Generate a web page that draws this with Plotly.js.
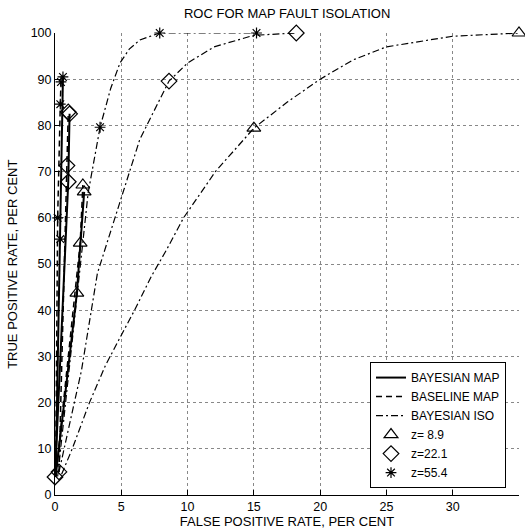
<!DOCTYPE html>
<html>
<head>
<meta charset="utf-8">
<script src="https://cdn.plot.ly/plotly-3.0.1.min.js"></script>
<style>html,body{margin:0;padding:0;background:#fff;}#chart{width:525px;height:529px;}</style>
</head>
<body>
<div id="chart"></div>
<script>
// ---- data ----
const zLabels = ['z= 8.9', 'z=22.1', 'z=55.4'];
const styleNames = ['BAYESIAN MAP', 'BASELINE MAP', 'BAYESIAN ISO'];

// Bayesian MAP (solid)
const bmapX_z89 = [0.05, 1.65, 2.2];   const bmapY_z89 = [4, 43.7, 65.6];
const bmapX_z221 = [0.0, 1.0, 1.1];    const bmapY_z221 = [3.9, 67.8, 82.5];
const bmapX_z554 = [0.05, 0.4, 0.6];   const bmapY_z554 = [4, 55.4, 90.5];

// Baseline MAP (dashed)
const basX_z89 = [0.05, 1.9, 2.1];     const basY_z89 = [4, 54.5, 67.1];
const basX_z221 = [0.3, 0.9, 1.0];     const basY_z221 = [5.0, 71.3, 82.9];
const basX_z554 = [0.05, 0.2, 0.4, 0.45]; const basY_z554 = [4, 60, 84.6, 89.4];

// Bayesian ISO (dash-dot)
const isoX_z89 = [0.5, 1.3, 2.6, 3.8, 4.8, 6, 7.3, 8.4, 9.7, 12.1, 15, 17.5, 20, 22.5, 25, 30, 35];
const isoY_z89 = [4.5, 10, 20, 28, 33.5, 40, 47.5, 53, 60, 70, 79.4, 85, 90, 94.2, 97, 99.3, 100];
const isoX_z221 = [0.3, 1.0, 2.0, 3.2, 4.2, 5.0, 6.4, 8.6, 10, 12, 15, 18.2];
const isoY_z221 = [5, 14, 27, 48, 57, 64, 77, 89.6, 93.5, 97, 99.5, 100];
const isoX_z554 = [0.2, 0.8, 1.5, 2.0, 2.5, 3.4, 4.2, 4.9, 5.6, 6.4, 7.9, 15.2];
const isoY_z554 = [4, 20, 38, 52, 65.4, 79.6, 88, 93.5, 96.5, 98.5, 100, 100];

// marked data points per z value
const triX = [1.65, 1.9, 2.1, 2.2, 15, 35];
const triY = [43.7, 54.5, 67.1, 65.6, 79.4, 100];
const diaX = [0.0, 0.3, 0.9, 1.0, 1.0, 1.1, 8.6, 18.2];
const diaY = [3.9, 5.0, 71.3, 67.8, 82.9, 82.5, 89.6, 100];
const starX = [0.2, 0.4, 0.4, 0.45, 0.6, 3.4, 7.9, 15.2];
const starY = [60, 55.4, 84.6, 89.4, 90.5, 79.6, 100, 100];

// ---- styles ----
const lineStyles = [
  {color: '#000', width: 2, dash: 'solid'},
  {color: '#000', width: 1.5, dash: '6px,4px'},
  {color: '#000', width: 1.2, dash: '7px,3px,2px,3px'}
];

function lineTrace(x, y, si, legend) {
  return {x: x, y: y, type: 'scatter', mode: 'lines', line: lineStyles[si],
          name: styleNames[si], showlegend: legend, legendrank: si + 1,
          hoverinfo: 'skip'};
}
function markTrace(x, y, zi, symbol, size) {
  return {x: x, y: y, type: 'scatter', mode: 'markers', name: zLabels[zi],
          marker: {symbol: symbol, size: size, color: '#000', line: {color: '#000', width: 1.2}},
          cliponaxis: false, showlegend: true, legendrank: 4 + zi};
}

const traces = [
  lineTrace(bmapX_z89, bmapY_z89, 0, true),
  lineTrace(basX_z89, basY_z89, 1, true),
  lineTrace(isoX_z89, isoY_z89, 2, true),
  lineTrace(bmapX_z221, bmapY_z221, 0, false),
  lineTrace(basX_z221, basY_z221, 1, false),
  lineTrace(isoX_z221, isoY_z221, 2, false),
  lineTrace(bmapX_z554, bmapY_z554, 0, false),
  lineTrace(basX_z554, basY_z554, 1, false),
  lineTrace(isoX_z554, isoY_z554, 2, false),
  markTrace(triX, triY, 0, 'triangle-up-open', 12),
  markTrace(diaX, diaY, 1, 'diamond-open', 12),
  markTrace(starX, starY, 2, 'asterisk-open', 9)
];

const fam = 'Liberation Sans, Arial, sans-serif';
const tickFont = {family: fam, size: 12.5, color: '#000'};
const titleFont = {family: fam, size: 13, color: '#000'};
const legendFont = {family: fam, size: 12, color: '#000'};
const axisCommon = {
  showline: true, linecolor: '#000', linewidth: 1,
  ticks: 'inside', ticklen: 5, tickcolor: '#000',
  showgrid: true, gridcolor: '#888', griddash: 'dot', gridwidth: 1,
  zeroline: false, mirror: false, tickfont: tickFont
};

const layout = {
  width: 525, height: 529,
  margin: {l: 55, r: 6, t: 33, b: 34},
  paper_bgcolor: '#fff', plot_bgcolor: '#fff',
  font: tickFont,
  title: {text: 'ROC FOR MAP FAULT ISOLATION', font: titleFont, x: 0.547, xanchor: 'center', y: 0.974, yanchor: 'middle'},
  xaxis: Object.assign({}, axisCommon, {range: [0, 35], dtick: 5, tick0: 0,
    title: {text: 'FALSE POSITIVE RATE, PER CENT', font: titleFont, standoff: 1}}),
  yaxis: Object.assign({}, axisCommon, {range: [0, 100], dtick: 10, tick0: 0}),
  annotations: [{
    text: 'TRUE POSITIVE RATE, PER CENT', font: titleFont, textangle: -90,
    xref: 'paper', yref: 'paper', x: -0.093, y: 0.5, xanchor: 'center', yanchor: 'middle',
    showarrow: false
  }],
  legend: {x: 0.972, y: 0.015, xanchor: 'right', yanchor: 'bottom',
    bgcolor: '#fff', bordercolor: '#000', borderwidth: 1, font: legendFont,
    tracegroupgap: 0, traceorder: 'normal'},
  showlegend: true
};

Plotly.newPlot('chart', traces, layout, {staticPlot: true, displayModeBar: false});
</script>
</body>
</html>
